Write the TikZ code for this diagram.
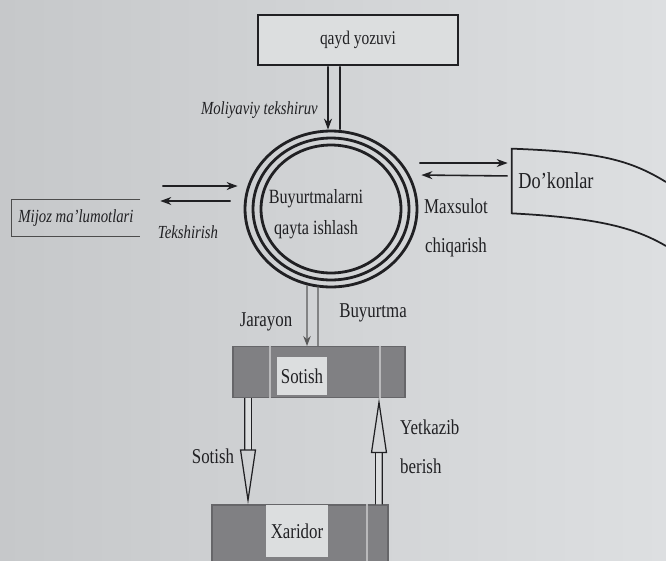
\documentclass[tikz,border=0pt]{standalone}
\usepackage{fontspec}
\setmainfont{Liberation Serif}[FakeStretch=0.8]
\usetikzlibrary{shapes.geometric, arrows.meta, positioning}
\definecolor{paperdark}{RGB}{198,200,202}
\definecolor{paperlit}{RGB}{221,223,225}
\definecolor{paperlight}{RGB}{220,222,223}
\definecolor{slabgray}{RGB}{128,128,131}
\definecolor{ink}{RGB}{32,32,35}
\tikzstyle{record} = [rectangle, minimum width = 4cm, minimum height = 1cm,
  draw = ink, line width = 1.5pt, fill = paperlight, text = ink,
  font = \fontsize{11}{13}\selectfont]
\tikzstyle{store} = [rectangle, minimum width = 2.56cm, minimum height = 0.72cm,
  text = ink, font = \itshape\fontsize{10.5}{12}\selectfont]
\tikzstyle{process} = [ellipse, minimum width = 3.44cm, minimum height = 3.12cm,
  draw = ink, line width = 1.6pt]
\tikzstyle{slab} = [rectangle, fill = slabgray, draw = slabgray!80!black,
  line width = 0.6pt]
\tikzstyle{tag} = [rectangle, fill = paperlight, inner sep = 0pt, text = ink,
  font = \fontsize{12}{14}\selectfont]
\tikzstyle{note} = [text = ink, font = \fontsize{12}{22}\selectfont, align = center]
\tikzstyle{slanted} = [text = ink, font = \itshape\fontsize{10.5}{13}\selectfont]
\tikzstyle{arrow} = [ink, line width = 0.9pt, -{Stealth[length = 2.2mm, width = 1.6mm]}]
\tikzstyle{flow} = [gray!70!black, line width = 0.7pt]
\tikzstyle{hollow} = [ink, line width = 0.7pt, double = paperlight,
  double distance = 1.1mm, -{Triangle[open, length = 1.1cm, width = 3.2mm]}]
\tikzstyle{stripe} = [slabgray!55!white, line width = 1pt]

\begin{document}
\begin{tikzpicture}[x = 0.02cm, y = -0.02cm]
  \useasboundingbox (0,0) rectangle (666,561);
  \clip (0,0) rectangle (666,561);
  \shade[left color = paperdark, right color = paperlit] (0,0) rectangle (666,561);

  % nodes
  \node (qayd) [record] at (358,40) {qayd yozuvi};
  \node (proc) [process] at (331,209) {};
  \draw[ink, line width = 1.6pt] (proc.center) ellipse [x radius = 1.56cm, y radius = 1.42cm];
  \draw[ink, line width = 1.6pt] (proc.center) ellipse [x radius = 1.40cm, y radius = 1.28cm];
  \node (proctext) [note, font = \fontsize{11.5}{18}\selectfont] at (316,214)
    {Buyurtmalarni\\qayta ishlash};

  \node (mijoz) [store] at (76,218) {Mijoz ma'lumotlari};
  \draw[gray!60!black, line width = 0.6pt] (mijoz.north east) -- (mijoz.north west)
    -- (mijoz.south west) -- (mijoz.south east);

  \node (dokon) [rectangle, minimum width = 1.76cm, minimum height = 1.28cm, text = ink,
    font = \fontsize{13}{15}\selectfont] at (556,181) {Do'konlar};
  \draw[ink, line width = 1pt] (666,182) .. controls (630,160) and (600,152) .. (dokon.north west)
    -- (dokon.south west) .. controls (600,218) and (635,228) .. (666,246);

  \node (sotish) [slab, minimum width = 3.44cm, minimum height = 1.02cm] at (319,372) {};
  \draw[stripe] ([xshift = -0.98cm]sotish.north) -- ([xshift = -0.98cm]sotish.south);
  \draw[stripe] ([xshift = 1.22cm]sotish.north) -- ([xshift = 1.22cm]sotish.south);
  \node (sotishtag) [tag, minimum width = 1cm, minimum height = 0.76cm] at (302,376) {Sotish};

  \node (xaridor) [slab, minimum width = 3.52cm, minimum height = 1.4cm] at (300,540) {};
  \draw[stripe] ([xshift = 1.34cm]xaridor.north) -- ([xshift = 1.34cm]xaridor.south);
  \node (xaridortag) [tag, minimum width = 1.26cm, minimum height = 1.04cm] at (297,531) {Xaridor};

  % connectors
  \draw[arrow] ([xshift = -0.6cm]qayd.south) -- ([xshift = -0.06cm]proc.north);
  \draw[ink, line width = 0.9pt] ([xshift = -0.36cm]qayd.south) -- ([xshift = 0.18cm]proc.north);

  \draw[arrow, shorten <= 0.44cm, shorten >= 0.12cm]
    ([yshift = 0.64cm]mijoz.east) -- ([yshift = 0.46cm]proc.west);
  \draw[arrow, shorten <= 0.26cm, shorten >= 0.4cm]
    ([yshift = 0.16cm]proc.west) -- ([yshift = 0.34cm]mijoz.east);

  \draw[arrow, shorten <= 0.02cm, shorten >= 0.08cm]
    ([yshift = 0.92cm]proc.east) -- ([yshift = 0.36cm]dokon.west);
  \draw[arrow, shorten <= 0.08cm, shorten >= 0.06cm]
    ([yshift = 0.1cm]dokon.west) -- ([yshift = 0.68cm]proc.east);

  \draw[flow, -{Stealth[length = 2mm, width = 1.5mm]}, shorten <= -0.06cm]
    ([xshift = -0.48cm]proc.south) -- ([xshift = -0.24cm]sotish.north);
  \draw[flow, shorten <= -0.04cm] ([xshift = -0.26cm]proc.south) -- ([xshift = -0.02cm]sotish.north);

  \draw[hollow] ([xshift = -1.42cm]sotish.south) -- ([xshift = -1.04cm]xaridor.north);
  \draw[hollow] ([xshift = 1.58cm]xaridor.north) -- ([xshift = 1.2cm]sotish.south);

  % labels
  \node (moliya) [slanted, anchor = east] at (324,110) {Moliyaviy tekshiruv};
  \node (teksh) [slanted] at (188,232) {Tekshirish};
  \node (maxsulot) [note] at (456,228) {Maxsulot\\chiqarish};
  \node (jarayon) [note] at (266,322) {Jarayon};
  \node (buyurtma) [note] at (373,313) {Buyurtma};
  \node (sotishlbl) [note] at (213,456) {Sotish};
  \node (yetkazib) [note, align = left, anchor = west] at (394,447) {Yetkazib\\berish};
\end{tikzpicture}
\end{document}
